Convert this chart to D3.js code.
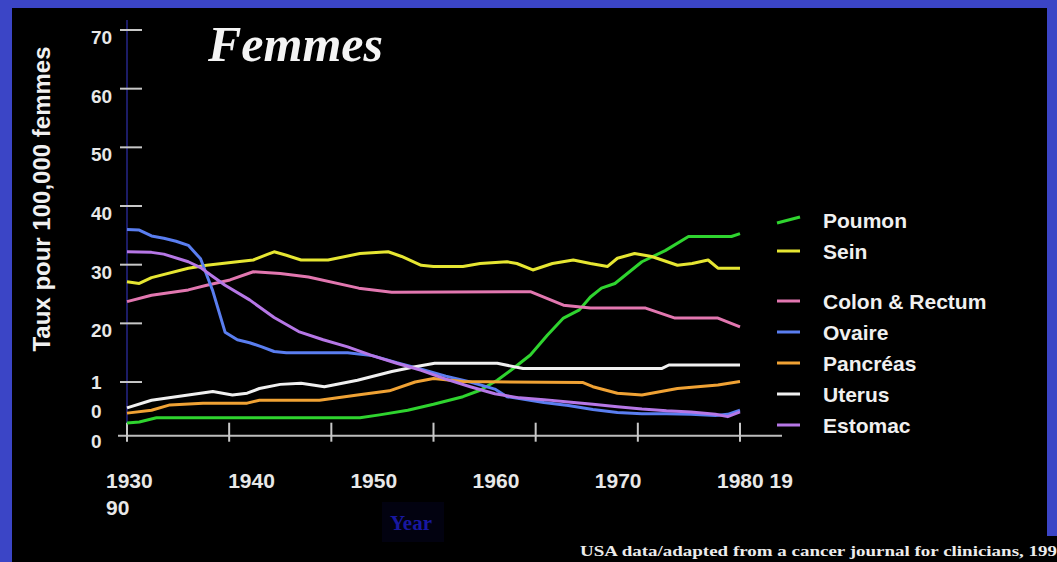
<!DOCTYPE html>
<html>
<head>
<meta charset="utf-8">
<script src="https://cdn.jsdelivr.net/npm/d3@7"></script>
<style>
    body { margin: 0; background: #3b45c6; }
    svg { display: block; }
</style>
</head>
<body>
<svg id="femmes_chart" width="1057" height="562"></svg>
<script>
// series: [year, rate per 100,000]
const poumon = [[1930, 3], [1931, 3.2], [1932.4, 3.9], [1949, 3.9], [1950.6, 4.4], [1952.9, 5.2], [1955, 6.2], [1957.4, 7.5], [1958.8, 8.6], [1960.2, 10.3], [1961.5, 12.3], [1962.9, 14.6], [1964.3, 18], [1965.6, 20.9], [1966.9, 22.3], [1967.8, 24.5], [1968.7, 26], [1969.8, 26.8], [1972, 30.5], [1973.9, 32.4], [1975.8, 34.8], [1979.3, 34.8], [1980, 35.3]]
const sein = [[1930, 27.1], [1931, 26.8], [1932, 27.8], [1935, 29.4], [1936.5, 29.9], [1939, 30.5], [1940.3, 30.8], [1941.4, 31.7], [1942, 32.2], [1943, 31.6], [1944.2, 30.8], [1946.4, 30.8], [1949, 31.9], [1951.3, 32.2], [1952.4, 31.4], [1954, 29.9], [1955, 29.7], [1957.4, 29.7], [1958.8, 30.2], [1961, 30.5], [1961.8, 30.2], [1963.1, 29.1], [1964.7, 30.2], [1966.4, 30.8], [1967.8, 30.2], [1969.2, 29.7], [1970, 31.1], [1971.4, 31.9], [1972.8, 31.4], [1974.9, 29.9], [1976.1, 30.2], [1977.4, 30.8], [1978.2, 29.4], [1980, 29.4]]
const colonRectum = [[1930, 23.7], [1932, 24.8], [1935, 25.7], [1936.5, 26.5], [1938.4, 27.4], [1940.3, 28.8], [1942.5, 28.5], [1944.8, 27.9], [1948.9, 26], [1951.6, 25.3], [1962.9, 25.4], [1965.6, 23.1], [1967.8, 22.6], [1972.3, 22.6], [1974.7, 20.9], [1978.2, 20.9], [1980, 19.4]]
const ovaire = [[1930, 36], [1931, 35.9], [1932, 34.9], [1933, 34.5], [1934, 34], [1935, 33.3], [1936, 31], [1937, 25.5], [1938, 18.5], [1939, 17.2], [1940, 16.7], [1941, 16], [1942, 15.2], [1943, 15], [1948, 15], [1950, 14.5], [1952, 13.3], [1954, 12.2], [1956, 11], [1958, 10], [1960, 8.8], [1961, 7.5], [1962, 7.2], [1964, 6.5], [1966, 6], [1968, 5.3], [1970, 4.8], [1972, 4.6], [1974, 4.6], [1976, 4.5], [1978, 4.3], [1979, 4.5], [1980, 5.2]]
const pancreas = [[1930, 4.7], [1932, 5.2], [1933.5, 6.1], [1936.2, 6.4], [1939.8, 6.4], [1940.8, 6.9], [1945.7, 6.9], [1948.8, 7.8], [1951.4, 8.5], [1953.5, 10], [1955, 10.6], [1957.4, 10.1], [1967.2, 9.9], [1968, 9.2], [1970, 8.1], [1972, 7.8], [1974.9, 8.9], [1978.2, 9.5], [1980, 10.1]]
const uterus = [[1930, 5.6], [1932, 6.9], [1935, 7.8], [1937, 8.4], [1938.6, 7.8], [1939.8, 8.1], [1940.8, 8.9], [1942.5, 9.6], [1944.2, 9.8], [1946.1, 9.2], [1948.8, 10.3], [1951.6, 11.8], [1953.5, 12.6], [1955.1, 13.2], [1960.2, 13.2], [1962.3, 12.3], [1973.6, 12.3], [1974.2, 12.9], [1980, 12.9]]
const estomac = [[1930, 32.2], [1932, 32.1], [1933, 31.8], [1935, 30.5], [1936, 29.5], [1937, 28], [1938, 26.5], [1940, 24], [1942, 21], [1944, 18.6], [1946, 17.2], [1948, 16], [1950, 14.5], [1952, 13.2], [1954, 12], [1956, 10.5], [1958, 9.2], [1960, 8], [1962, 7.3], [1964, 7], [1966, 6.6], [1968, 6.2], [1970, 5.8], [1972, 5.4], [1974, 5.1], [1976, 4.9], [1978, 4.5], [1979, 4.1], [1980, 4.9]]

const seriesNames = ["Poumon", "Sein", "Colon & Rectum", "Ovaire", "Pancréas", "Uterus", "Estomac"]
const seriesValues = [poumon, sein, colonRectum, ovaire, pancreas, uterus, estomac]
const seriesColors = ["#2fd42f", "#e6e632", "#e277b0", "#5a7ef0", "#f0a234", "#f0f0f0", "#b677e6"]

const yTickValues = [70, 60, 50, 40, 30, 20, 10, 5, 0]
const yTickLabels = ["70", "60", "50", "40", "30", "20", "1", "0", "0"]
const yTickMarks = [70, 60, 50, 40, 30, 20, 10]
const xLabelYears = [1930, 1940, 1950, 1960, 1970, 1980]
const xLabels = ["1930", "1940", "1950", "1960", "1970", "1980 19"]
const X_TICK_COUNT = 7

const TITLE = "Femmes"
const Y_TITLE = "Taux pour 100,000 femmes"
const X_TITLE = "Year"
const SOURCE = "USA data/adapted from a cancer journal for clinicians, 199"

function drawFemmesChart() {
    const svg = d3.select("#femmes_chart")
    const SANS = "'Liberation Sans', Arial, sans-serif"
    const SERIF = "'Liberation Serif', 'Times New Roman', serif"

    // black panel inside the blue frame
    svg.append("rect")
        .attr("x", 12).attr("y", 8)
        .attr("width", 1035).attr("height", 554)
        .attr("fill", "#000")
    svg.append("rect")
        .attr("x", 560).attr("y", 536)
        .attr("width", 497).attr("height", 26)
        .attr("fill", "#000")

    const x = d3.scaleLinear().domain([1930, 1980]).range([127, 740])
    const y = d3.scaleLinear().domain([0, 70]).range([440.7, 30])
    const xLabelPos = d3.scaleLinear().domain([1930, 1980]).range([106, 717])
    const axisY = y(0) - 5

    // y axis
    svg.append("line")
        .attr("x1", x(1930)).attr("x2", x(1930))
        .attr("y1", 20).attr("y2", axisY + 4)
        .attr("stroke", "#1c1c66").attr("stroke-width", 2)

    svg.selectAll(".y_tick")
        .data(yTickMarks)
        .enter()
        .append("line")
        .attr("class", "y_tick")
        .attr("x1", x(1930) - 7).attr("x2", x(1930) + 15)
        .attr("y1", d => y(d)).attr("y2", d => y(d))
        .attr("stroke", "#c8c8c8").attr("stroke-width", 2)

    svg.selectAll(".y_label")
        .data(yTickValues)
        .enter()
        .append("text")
        .attr("class", "y_label")
        .attr("x", 91)
        .attr("y", d => y(d) + (d >= 20 ? 14 : 7))
        .attr("fill", "#e8e8e8")
        .attr("font-family", SANS)
        .attr("font-weight", "700")
        .attr("font-size", "19px")
        .text((d, i) => yTickLabels[i])

    // x axis
    svg.append("line")
        .attr("x1", 118).attr("x2", 782)
        .attr("y1", axisY).attr("y2", axisY)
        .attr("stroke", "#bdbdbd").attr("stroke-width", 2)

    const xTicks = d3.range(X_TICK_COUNT).map(i => 1930 + i * 50 / (X_TICK_COUNT - 1))
    svg.selectAll(".x_tick")
        .data(xTicks)
        .enter()
        .append("line")
        .attr("class", "x_tick")
        .attr("x1", d => x(d)).attr("x2", d => x(d))
        .attr("y1", axisY - 13).attr("y2", axisY + 6)
        .attr("stroke", "#c8c8c8").attr("stroke-width", 2)

    svg.selectAll(".x_label")
        .data(xLabelYears)
        .enter()
        .append("text")
        .attr("class", "x_label")
        .attr("x", d => xLabelPos(d))
        .attr("y", 488)
        .attr("fill", "#e8e8e8")
        .attr("font-family", SANS)
        .attr("font-weight", "700")
        .attr("font-size", "21px")
        .text((d, i) => xLabels[i])

    svg.append("text")
        .attr("x", xLabelPos(1930)).attr("y", 515)
        .attr("fill", "#e8e8e8")
        .attr("font-family", SANS)
        .attr("font-weight", "700")
        .attr("font-size", "21px")
        .text("90")

    // lines
    const line = d3.line()
        .x(d => x(d[0]))
        .y(d => y(d[1]))

    svg.selectAll(".series")
        .data(seriesValues)
        .enter()
        .append("path")
        .attr("class", "series")
        .attr("d", line)
        .attr("fill", "none")
        .attr("stroke", (d, i) => seriesColors[i])
        .attr("stroke-width", 3)
        .attr("stroke-linejoin", "round")

    // titles
    svg.append("text")
        .attr("x", 208).attr("y", 61)
        .attr("fill", "#f4f4f4")
        .attr("font-family", SERIF)
        .attr("font-style", "italic")
        .attr("font-weight", "700")
        .attr("font-size", "50px")
        .text(TITLE)

    svg.append("text")
        .attr("transform", "translate(50,199) rotate(-90)")
        .attr("text-anchor", "middle")
        .attr("fill", "#f0f0f0")
        .attr("font-family", SANS)
        .attr("font-weight", "700")
        .attr("font-size", "24px")
        .text(Y_TITLE)

    svg.append("rect")
        .attr("x", 382).attr("y", 502)
        .attr("width", 62).attr("height", 40)
        .attr("fill", "#020210")
    svg.append("text")
        .attr("x", 390).attr("y", 530)
        .attr("fill", "#1818a0")
        .attr("font-family", SERIF)
        .attr("font-weight", "700")
        .attr("font-size", "21px")
        .text(X_TITLE)

    svg.append("text")
        .attr("x", 580).attr("y", 556)
        .attr("fill", "#ececec")
        .attr("font-family", SERIF)
        .attr("font-weight", "700")
        .attr("font-size", "15px")
        .attr("textLength", 477)
        .attr("lengthAdjust", "spacingAndGlyphs")
        .text(SOURCE)

    // legend
    const legendY = (i) => 228 + i * 31 + (i >= 2 ? 19 : 0)

    svg.selectAll(".legend_mark")
        .data(seriesNames)
        .enter()
        .append("line")
        .attr("class", "legend_mark")
        .attr("x1", 777).attr("x2", 800)
        .attr("y1", (d, i) => legendY(i) - (i === 0 ? 5 : 8))
        .attr("y2", (d, i) => legendY(i) - (i === 0 ? 11 : 8))
        .attr("stroke", (d, i) => seriesColors[i])
        .attr("stroke-width", 3)

    svg.selectAll(".legend_text")
        .data(seriesNames)
        .enter()
        .append("text")
        .attr("class", "legend_text")
        .attr("x", 823)
        .attr("y", (d, i) => legendY(i))
        .attr("fill", "#f0f0f0")
        .attr("font-family", SANS)
        .attr("font-weight", "700")
        .attr("font-size", "21px")
        .text(d => d)
}

drawFemmesChart()
</script>
</body>
</html>
